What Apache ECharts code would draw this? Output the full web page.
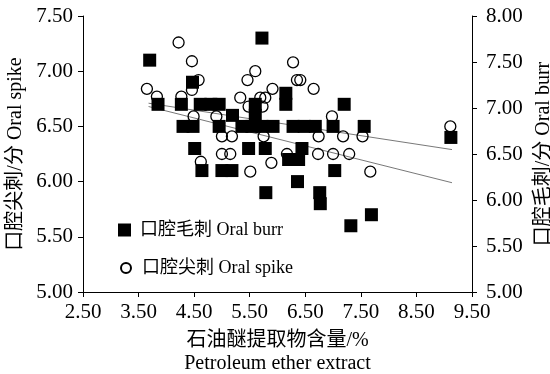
<!DOCTYPE html>
<html><head><meta charset="utf-8">
<script src="https://cdn.jsdelivr.net/npm/echarts@6/dist/echarts.min.js"></script>
<style>html,body{margin:0;padding:0;background:#fff}#c{width:550px;height:374px}</style>
</head><body><div id="c"></div>
<script>
var xTicks = [2.5, 3.5, 4.5, 5.5, 6.5, 7.5, 8.5, 9.5];
var burrX = [3.70,5.72,4.47,3.85,4.27,4.61,4.80,4.95,5.60,6.15,6.15,7.20,5.19,5.60,4.30,4.48,4.95,5.36,5.54,5.72,5.92,6.28,6.48,6.68,7.00,7.56,9.12,4.51,5.48,5.78,6.44,6.20,6.38,4.64,5.00,5.18,7.03,6.36,5.79,6.76,6.77,7.69,7.32];
var burrY = [7.10,7.30,6.90,6.70,6.70,6.70,6.70,6.70,6.70,6.80,6.70,6.70,6.60,6.60,6.50,6.50,6.50,6.50,6.50,6.50,6.50,6.50,6.50,6.50,6.50,6.50,6.40,6.30,6.30,6.30,6.30,6.20,6.20,6.10,6.10,6.10,6.10,6.00,5.90,5.90,5.80,5.70,5.60];
var spikeX = [3.65,3.83,4.22,4.27,4.46,4.58,4.46,4.49,4.90,5.00,5.18,5.00,5.15,4.62,5.33,5.46,5.60,5.69,5.78,5.48,5.73,5.51,5.75,5.89,6.28,6.35,6.41,5.91,6.65,6.98,6.17,6.74,6.73,7.00,7.29,7.18,7.53,7.67,9.11];
var spikeY = [6.84,6.77,7.26,6.77,7.09,6.92,6.83,6.59,6.59,6.41,6.41,6.25,6.25,6.18,6.76,6.92,7.00,6.76,6.76,6.68,6.68,6.09,6.41,6.17,7.08,6.92,6.92,6.84,6.84,6.59,6.25,6.41,6.25,6.25,6.25,6.41,6.41,6.09,6.50];
var trendUpperX = [3.68, 9.14], trendUpperY = [6.71, 6.29];
var trendLowerX = [3.68, 9.14], trendLowerY = [6.68, 5.99];

function pairs(xs, ys){ return xs.map(function(x,i){ return [x, ys[i]]; }); }
var FONT = "'Liberation Serif','Times New Roman','Noto Sans CJK SC',serif";
var TXT = {color:'#000', fontFamily:FONT, fontSize:18};
var TICK = {color:'#000', fontFamily:FONT, fontSize:21};
var NAME = {color:'#000', fontFamily:FONT, fontSize:20};
var chart = echarts.init(document.getElementById('c'), null, {renderer:'canvas'});
var fmt = function(v){ return Number(v).toFixed(2); };
chart.setOption({
  animation:false,
  backgroundColor:'#fff',
  grid:{left:83, right:78, top:16, bottom:82, outerBoundsMode:'none', containLabel:false},
  legend:[
    {data:[{name:'口腔毛刺 Oral burr', icon:'rect'}], left:113, top:216, itemWidth:13, itemHeight:13, itemGap:0,
     textStyle:Object.assign({padding:[0,0,0,4]}, TXT)},
    {data:[{name:'口腔尖刺 Oral spike', icon:'circle'}], left:115, top:254, itemWidth:10, itemHeight:10, itemGap:0,
     textStyle:Object.assign({padding:[0,0,0,6]}, TXT)}
  ],
  xAxis:{type:'value', min:2.5, max:9.5, interval:1, splitLine:{show:false},
    axisLine:{lineStyle:{color:'#000', width:1}}, axisTick:{show:true, length:5, lineStyle:{color:'#000'}},
    axisLabel:Object.assign({formatter:fmt, margin:10}, TICK),
    name:'石油醚提取物含量/%\nPetroleum ether extract', nameLocation:'middle', nameGap:37,
    nameTextStyle:Object.assign({lineHeight:23, verticalAlign:'top'}, NAME)},
  yAxis:[
    {type:'value', min:5, max:7.5, interval:0.5, position:'left', splitLine:{show:false},
     axisLine:{show:true, lineStyle:{color:'#000'}}, axisTick:{show:true, length:5, lineStyle:{color:'#000'}},
     axisLabel:Object.assign({formatter:fmt, margin:10}, TICK),
     name:'口腔尖刺/分 Oral spike', nameLocation:'middle', nameGap:55, nameRotate:90, nameTextStyle:NAME},
    {type:'value', min:5, max:8, interval:0.5, position:'right', splitLine:{show:false},
     axisLine:{show:true, lineStyle:{color:'#000'}}, axisTick:{show:true, length:5, lineStyle:{color:'#000'}},
     axisLabel:Object.assign({formatter:fmt, margin:14}, TICK),
     name:'口腔毛刺/分 Oral burr', nameLocation:'middle', nameGap:58, nameRotate:90, nameTextStyle:NAME}
  ],
  series:[
    {type:'line', data:pairs(trendUpperX, trendUpperY), symbol:'none', silent:true,
     lineStyle:{color:'#555', width:0.8}, z:1},
    {type:'line', data:pairs(trendLowerX, trendLowerY), symbol:'none', silent:true,
     lineStyle:{color:'#555', width:0.8}, z:1},
    {name:'口腔尖刺 Oral spike', type:'scatter', data:pairs(spikeX, spikeY), symbol:'circle', symbolSize:11,
     itemStyle:{color:'rgba(255,255,255,0)', borderColor:'#000', borderWidth:1.3, opacity:1}, z:2},
    {name:'口腔毛刺 Oral burr', type:'scatter', data:pairs(burrX, burrY), symbol:'rect', symbolSize:13,
     itemStyle:{color:'#000', opacity:1}, z:3}
  ]
});
</script></body></html>
